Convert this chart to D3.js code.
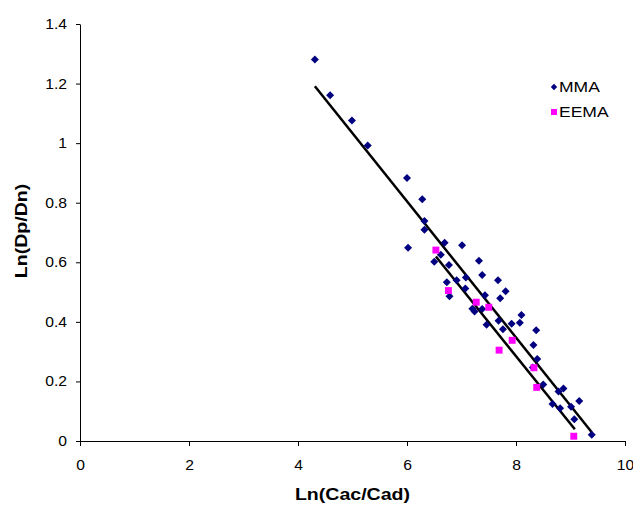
<!DOCTYPE html>
<html>
<head>
<meta charset="utf-8">
<script src="https://cdn.jsdelivr.net/npm/d3@7"></script>
<style>
  html, body { margin: 0; padding: 0; background: #ffffff; }
  svg { display: block; font-family: "Liberation Sans", Arial, sans-serif; }
</style>
</head>
<body>
<svg id="chart" width="633" height="506"></svg>
<script>
// ---- data ----
const mmaX = [4.31,4.59,4.99,5.28,6.00,6.28,6.32,6.32,6.02,6.69,7.01,6.62,6.50,6.77,7.32,7.38,6.91,7.08,6.73,7.67,7.81,7.07,6.78,7.43,7.71,7.20,7.24,7.38,7.46,7.68,7.76,8.10,8.07,7.92,8.37,8.32,8.39,8.31,8.50,8.87,8.78,9.16,8.67,8.81,9.01,9.07,9.39];
const mmaY = [1.281,1.161,1.076,0.992,0.883,0.812,0.739,0.709,0.649,0.666,0.657,0.625,0.602,0.591,0.605,0.557,0.540,0.549,0.533,0.540,0.503,0.512,0.486,0.489,0.479,0.444,0.435,0.443,0.390,0.404,0.375,0.423,0.397,0.394,0.372,0.322,0.275,0.247,0.190,0.176,0.166,0.134,0.124,0.110,0.115,0.073,0.021];
const eemaX = [6.53,6.76,7.27,7.50,7.93,7.69,8.33,8.38,9.06];
const eemaY = [0.641,0.505,0.466,0.449,0.338,0.305,0.246,0.180,0.016];

// trend lines: [slope, intercept, xStart, xEnd]
const mmaTrend = [-0.2287, 2.177, 4.31, 9.39];
const eemaTrend = [-0.2275, 2.105, 6.53, 9.08];

const seriesNames = ["MMA", "EEMA"];
const xTicks = [0, 2, 4, 6, 8, 10];
const yTicks = [0, 0.2, 0.4, 0.6, 0.8, 1, 1.2, 1.4];
const xTitle = "Ln(Cac/Cad)";
const yTitle = "Ln(Dp/Dn)";

// ---- drawing ----
const svg = d3.select("#chart");
const x = d3.scaleLinear().domain([0, 10]).range([80, 625]);
const y = d3.scaleLinear().domain([0, 1.4]).range([441, 24]);

function stretchText(sel, k) {
  sel.each(function () {
    const w = this.getComputedTextLength();
    d3.select(this).attr("textLength", w * k).attr("lengthAdjust", "spacingAndGlyphs");
  });
}

// axes
const gx = svg.append("g").attr("transform", "translate(0,441)")
  .call(d3.axisBottom(x).tickValues(xTicks).tickSizeInner(5).tickSizeOuter(0)
    .tickPadding(14).tickFormat(d3.format("")));
const gy = svg.append("g").attr("transform", "translate(80,0)")
  .call(d3.axisLeft(y).tickValues(yTicks).tickSizeInner(4).tickSizeOuter(0)
    .tickPadding(9).tickFormat(d => d3.format("")(+d.toFixed(1))));

[gx, gy].forEach(g => {
  g.selectAll("path.domain").attr("stroke", "#000").attr("stroke-width", 1);
  g.selectAll(".tick line").attr("stroke", "#000");
  g.selectAll(".tick text").attr("fill", "#000").style("font-size", "14px")
    .style("font-family", "'Liberation Sans', Arial, sans-serif");
  stretchText(g.selectAll(".tick text"), 1.12);
});

// axis titles
svg.append("text").attr("x", 352.5).attr("y", 500).attr("text-anchor", "middle")
  .style("font-size", "17px").style("font-weight", "bold").text(xTitle)
  .call(stretchText, 1.15);
svg.append("text").attr("transform", "translate(27,231) rotate(-90)").attr("text-anchor", "middle")
  .style("font-size", "17px").style("font-weight", "bold").text(yTitle)
  .call(stretchText, 1.15);

// trend lines
const line = d3.line().x(d => x(d[0])).y(d => y(d[1]));
[mmaTrend, eemaTrend].forEach(t => {
  const pts = [[t[2], t[0] * t[2] + t[1]], [t[3], t[0] * t[3] + t[1]]];
  svg.append("path").attr("d", line(pts)).attr("fill", "none")
    .attr("stroke", "#000").attr("stroke-width", 2.5);
});

// markers
const diamond = d3.symbol().type(d3.symbolSquare).size(32);
const square = d3.symbol().type(d3.symbolSquare).size(48);

svg.append("g").selectAll("path").data(d3.range(mmaX.length)).join("path")
  .attr("d", diamond)
  .attr("transform", i => `translate(${x(mmaX[i])},${y(mmaY[i])}) rotate(45)`)
  .attr("fill", "#000080");

svg.append("g").selectAll("path").data(d3.range(eemaX.length)).join("path")
  .attr("d", square)
  .attr("transform", i => `translate(${x(eemaX[i])},${y(eemaY[i])})`)
  .attr("fill", "#ff00ff");

// legend
const legend = svg.append("g");
const legY = [87, 112];
legend.append("path").attr("d", d3.symbol().type(d3.symbolSquare).size(20)())
  .attr("transform", `translate(554,${legY[0]}) rotate(45)`).attr("fill", "#000080");
legend.append("path").attr("d", d3.symbol().type(d3.symbolSquare).size(36)())
  .attr("transform", `translate(554,${legY[1]})`).attr("fill", "#ff00ff");
seriesNames.forEach((n, i) => {
  legend.append("text").attr("x", 559).attr("y", legY[i]).attr("dy", "0.36em")
    .style("font-size", "14px").attr("fill", "#000").text(n)
    .call(stretchText, 1.25);
});
</script>
</body>
</html>
